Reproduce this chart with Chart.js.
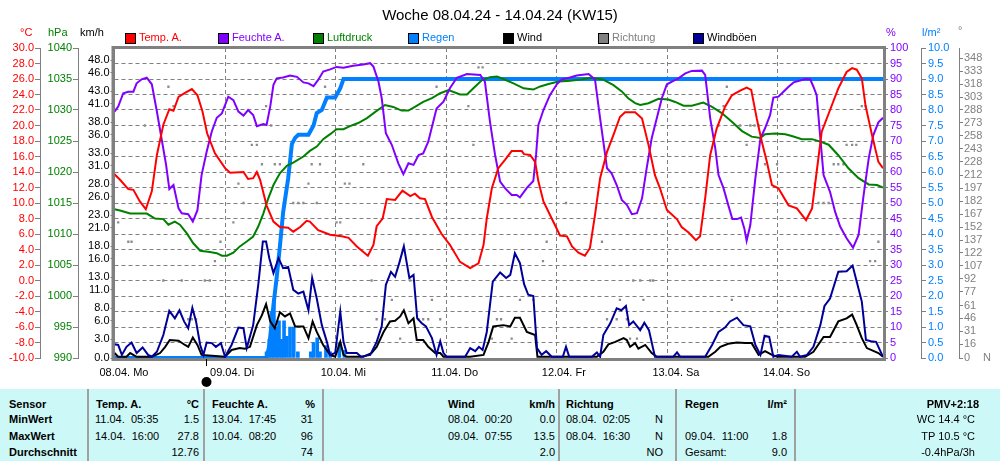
<!DOCTYPE html>
<html>
<head>
<meta charset="utf-8">
<script src="https://cdn.jsdelivr.net/npm/chart.js@4.4.1/dist/chart.umd.min.js"></script>
<style>
  body { margin: 0; width: 1000px; height: 461px; background: #fff; overflow: hidden; position: relative;
         font-family: "Liberation Sans", Arial, sans-serif; font-size: 11px; }
  #wrap { position: absolute; left: 0; top: 0; width: 1000px; height: 388px; }
  .t { position: absolute; white-space: pre; line-height: 13px; }
  .b { font-weight: bold; }
  #title { position: absolute; left: 0; top: 6px; width: 1000px; text-align: center; font-size: 15px; line-height: 18px; }
  .box { position: absolute; top: 33px; width: 9px; height: 9px; border: 1px solid #000; }
  #table { position: absolute; left: 0; top: 389px; width: 1000px; height: 72px; background: #cdf8f8; }
  .sep { position: absolute; top: 0; width: 2px; height: 72px; background: #a0a0a0; }
</style>
</head>
<body>
<div id="wrap"><canvas id="weekChart" width="1000" height="388"></canvas></div>

<div id="title">Woche 08.04.24 - 14.04.24 (KW15)</div>

<div class="box" style="left:125px;background:#ff0000"></div><span class="t" style="left:139px;top:31px;color:#ff0000">Temp. A.</span>
<div class="box" style="left:218px;background:#8000ff"></div><span class="t" style="left:232px;top:31px;color:#8000ff">Feuchte A.</span>
<div class="box" style="left:313px;background:#008000"></div><span class="t" style="left:327px;top:31px;color:#008000">Luftdruck</span>
<div class="box" style="left:408px;background:#0080ff"></div><span class="t" style="left:422px;top:31px;color:#0080ff">Regen</span>
<div class="box" style="left:503px;background:#000000"></div><span class="t" style="left:517px;top:31px;color:#000">Wind</span>
<div class="box" style="left:598px;background:#808080"></div><span class="t" style="left:612px;top:31px;color:#808080">Richtung</span>
<div class="box" style="left:693px;background:#000099"></div><span class="t" style="left:707px;top:31px;color:#000">Windböen</span>

<span class="t" style="left:20px;top:26px;color:#ff0000">°C</span>
<span class="t" style="left:48px;top:26px;color:#008000">hPa</span>
<span class="t" style="left:80px;top:26px;color:#000">km/h</span>
<span class="t" style="left:886px;top:26px;color:#8000ff">%</span>
<span class="t" style="left:922px;top:26px;color:#0080ff">l/m²</span>
<span class="t" style="left:958px;top:24px;color:#808080">°</span>
<span class="t" style="left:983px;top:351px;color:#808080">N</span>

<div id="table">
  <div class="sep" style="left:87px"></div>
  <div class="sep" style="left:203px"></div>
  <div class="sep" style="left:322px"></div>
  <div class="sep" style="left:558px"></div>
  <div class="sep" style="left:675px"></div>
  <div class="sep" style="left:794px"></div>

  <span class="t b" style="left:9px;top:8.5px">Sensor</span>
  <span class="t b" style="left:9px;top:24px">MinWert</span>
  <span class="t b" style="left:9px;top:40.5px">MaxWert</span>
  <span class="t b" style="left:9px;top:56.5px">Durchschnitt</span>

  <span class="t b" style="left:96px;top:8.5px">Temp. A.</span>
  <span class="t b" style="right:801px;top:8.5px">°C</span>
  <span class="t" style="left:95px;top:24px">11.04.  05:35</span>
  <span class="t" style="right:801px;top:24px">1.5</span>
  <span class="t" style="left:95px;top:40.5px">14.04.  16:00</span>
  <span class="t" style="right:801px;top:40.5px">27.8</span>
  <span class="t" style="right:801px;top:56.5px">12.76</span>

  <span class="t b" style="left:212px;top:8.5px">Feuchte A.</span>
  <span class="t b" style="right:685px;top:8.5px">%</span>
  <span class="t" style="left:212px;top:24px">13.04.  17:45</span>
  <span class="t" style="right:687px;top:24px">31</span>
  <span class="t" style="left:212px;top:40.5px">10.04.  08:20</span>
  <span class="t" style="right:687px;top:40.5px">96</span>
  <span class="t" style="right:687px;top:56.5px">74</span>

  <span class="t b" style="left:448px;top:8.5px">Wind</span>
  <span class="t b" style="right:445px;top:8.5px">km/h</span>
  <span class="t" style="left:448px;top:24px">08.04.  00:20</span>
  <span class="t" style="right:445px;top:24px">0.0</span>
  <span class="t" style="left:448px;top:40.5px">09.04.  07:55</span>
  <span class="t" style="right:445px;top:40.5px">13.5</span>
  <span class="t" style="right:445px;top:56.5px">2.0</span>

  <span class="t b" style="left:566px;top:8.5px">Richtung</span>
  <span class="t" style="left:566px;top:24px">08.04.  02:05</span>
  <span class="t" style="right:337px;top:24px">N</span>
  <span class="t" style="left:566px;top:40.5px">08.04.  16:30</span>
  <span class="t" style="right:337px;top:40.5px">N</span>
  <span class="t" style="right:337px;top:56.5px">NO</span>

  <span class="t b" style="left:685px;top:8.5px">Regen</span>
  <span class="t b" style="right:213px;top:8.5px">l/m²</span>
  <span class="t" style="left:685px;top:40.5px">09.04.  11:00</span>
  <span class="t" style="right:213px;top:40.5px">1.8</span>
  <span class="t" style="left:685px;top:56.5px">Gesamt:</span>
  <span class="t" style="right:213px;top:56.5px">9.0</span>

  <span class="t b" style="right:21px;top:8.5px">PMV+2:18</span>
  <span class="t" style="right:25px;top:24px">WC 14.4 °C</span>
  <span class="t" style="right:25px;top:40.5px">TP 10.5 °C</span>
  <span class="t" style="right:25px;top:56.5px">-0.4hPa/3h</span>
</div>

<script>
// hours since 08.04. 00:00
const xMax = 166.8;
const nowHour = 19.9;
const dayTicks = [0, 24, 48, 72, 96, 120, 144];
const dayLabels = ['08.04. Mo', '09.04. Di', '10.04. Mi', '11.04. Do', '12.04. Fr', '13.04. Sa', '14.04. So'];

const tempTicks = [-10, -8, -6, -4, -2, 0, 2, 4, 6, 8, 10, 12, 14, 16, 18, 20, 22, 24, 26, 28, 30];
const pressTicks = [990, 995, 1000, 1005, 1010, 1015, 1020, 1025, 1030, 1035, 1040];
const windTicks = [0, 3, 6, 8, 11, 13, 16, 18, 21, 23, 26, 28, 31, 33, 36, 38, 41, 43, 46, 48];
const humTicks = [0, 5, 10, 15, 20, 25, 30, 35, 40, 45, 50, 55, 60, 65, 70, 75, 80, 85, 90, 95, 100];
const rainTicks = [0, 0.5, 1, 1.5, 2, 2.5, 3, 3.5, 4, 4.5, 5, 5.5, 6, 6.5, 7, 7.5, 8, 8.5, 9, 9.5, 10];
const dirTicks = [0, 16, 31, 46, 61, 77, 92, 107, 122, 137, 152, 167, 182, 197, 212, 228, 243, 258, 273, 288, 303, 318, 333, 348];

const tempHours = [0, 1.2, 3.0, 4.1, 5.5, 6.8, 8.1, 9.2, 10.6, 11.9, 12.8, 13.9, 15.3, 16.8, 18.0, 19.1, 20.1, 21.8, 24.0, 25.1,
  28.0, 29.0, 30.1, 30.9, 31.6, 33.0, 34.5, 35.9, 37.7, 38.8, 40.3, 41.7, 42.4, 44.2, 46.8, 49.3, 50.8, 52.6, 55.0, 56.2,
  56.9, 58.2, 59.1, 60.9, 62.5, 64.2, 65.2, 66.3, 67.4, 68.9, 71.0, 72.8, 75.0, 77.2, 79.0, 80.1, 80.8, 81.9, 83.3, 84.8,
  86.2, 88.4, 88.9, 90.2, 91.3, 92.0, 93.1, 94.9, 96.7, 98.2, 99.3, 100.7, 102.1, 103.2, 104.3, 105.4, 106.9, 108.3, 109.7, 110.8,
  113.0, 114.5, 115.9, 117.3, 118.4, 119.9, 122.1, 123.1, 124.6, 126.2, 127.1, 128.2, 129.3, 130.7, 132.5, 134.0, 135.8, 137.2, 138.2, 139.4,
  140.5, 141.6, 142.7, 144.1, 146.3, 148.1, 150.1, 151.4, 152.4, 153.5, 155.3, 157.1, 158.9, 160.1, 161.1, 162.2, 163.0, 164.4, 165.8, 166.8];
const tempValues = [13.7, 13.0, 11.8, 11.7, 10.2, 9.2, 11.5, 16.2, 20.1, 22.1, 21.9, 23.7, 24.2, 24.7, 23.9, 21.8, 19.0, 16.4, 14.5, 13.9,
  14.0, 13.1, 13.2, 14.0, 13.0, 9.7, 7.6, 6.9, 6.8, 6.3, 6.9, 7.7, 7.6, 6.5, 5.9, 5.7, 5.5, 4.4, 3.2, 4.6,
  7.0, 8.0, 10.5, 10.4, 11.6, 10.9, 11.2, 10.6, 10.5, 8.2, 6.0, 4.6, 2.4, 1.6, 2.2, 4.6, 8.0, 11.9, 14.5, 15.6,
  16.7, 16.7, 16.3, 16.2, 15.3, 12.8, 10.2, 8.0, 5.8, 5.7, 4.4, 3.6, 3.2, 4.2, 8.5, 13.2, 16.6, 18.8, 21.1, 21.7,
  21.7, 20.9, 17.5, 13.6, 11.9, 9.1, 7.9, 6.9, 6.2, 5.2, 5.7, 10.6, 16.2, 19.6, 22.4, 23.9, 24.5, 24.9, 24.6, 20.9,
  17.9, 15.3, 12.3, 11.9, 9.7, 9.3, 7.8, 9.3, 14.0, 19.2, 22.0, 24.8, 26.9, 27.4, 27.2, 26.1, 22.6, 18.8, 15.3, 14.5];

const humHours = [0, 0.8, 1.9, 3.0, 4.1, 4.8, 5.9, 7.0, 8.1, 9.2, 10.2, 11.2, 11.9, 12.8, 13.9, 14.6, 16.0, 17.0, 18.0, 18.9,
  20.0, 21.1, 22.2, 23.3, 24.7, 25.8, 26.9, 28.0, 29.0, 30.1, 30.9, 32.3, 33.0, 33.8, 34.5, 35.2, 36.6, 38.1, 39.6, 41.0,
  42.1, 43.2, 44.2, 45.3, 46.8, 48.2, 49.7, 51.8, 54.0, 55.5, 56.2, 57.3, 58.0, 58.9, 60.2, 61.6, 62.7, 63.8, 64.9, 66.0,
  67.0, 68.1, 69.9, 71.4, 72.8, 74.3, 76.5, 79.4, 80.4, 81.5, 82.6, 83.7, 84.8, 86.2, 87.3, 88.0, 89.5, 90.9, 91.5, 92.0,
  93.1, 94.5, 96.0, 97.1, 98.9, 100.3, 102.9, 103.6, 104.3, 105.4, 106.1, 106.9, 107.9, 109.0, 110.1, 111.2, 112.3, 113.4, 114.5, 115.5,
  116.6, 117.7, 118.8, 119.9, 121.3, 122.4, 123.9, 125.3, 127.5, 128.2, 129.3, 130.4, 131.1, 132.2, 133.2, 134.1, 135.1, 136.0, 136.7, 137.2,
  138.0, 139.1, 140.2, 141.2, 142.3, 143.0, 144.1, 145.2, 146.3, 147.4, 148.8, 149.9, 151.0, 151.7, 152.4, 153.2, 153.9, 155.3, 156.4, 157.5,
  158.9, 160.3, 161.5, 162.6, 163.7, 164.7, 165.8, 166.8];
const humValues = [79.5, 81.1, 85.4, 85.9, 85.9, 88.6, 89.9, 90.4, 88.3, 79.5, 70.9, 62.3, 54.5, 55.8, 48.3, 46.7, 46.4, 44.0, 47.7, 59.0,
  66.5, 73.0, 77.5, 78.9, 84.3, 83.2, 79.5, 78.2, 80.0, 78.4, 74.8, 75.5, 75.2, 81.1, 88.1, 90.2, 90.5, 91.1, 90.7, 88.9,
  88.6, 87.7, 89.7, 92.4, 93.1, 93.9, 93.6, 94.3, 94.7, 95.1, 94.0, 89.1, 83.8, 72.5, 68.7, 62.8, 59.3, 62.8, 62.3, 65.5,
  66.0, 69.8, 80.5, 82.7, 87.0, 90.4, 91.6, 91.3, 89.1, 76.2, 65.5, 56.9, 54.7, 52.6, 52.6, 51.8, 54.9, 57.1, 65.5, 75.2,
  80.0, 84.8, 88.3, 89.9, 90.5, 91.1, 91.6, 90.7, 89.7, 77.3, 69.8, 61.2, 59.6, 55.8, 51.0, 49.4, 46.4, 46.7, 51.5, 61.2,
  70.9, 77.3, 83.8, 88.3, 89.4, 90.2, 91.8, 92.6, 92.7, 91.3, 77.3, 67.6, 59.0, 54.7, 49.4, 44.8, 44.8, 45.3, 41.8, 37.8,
  42.9, 58.0, 70.9, 74.1, 78.4, 84.0, 84.3, 85.9, 87.5, 88.9, 89.5, 90.0, 89.9, 87.5, 84.8, 70.9, 59.0, 53.6, 47.2, 42.4,
  38.6, 35.6, 39.7, 52.6, 64.4, 71.9, 76.0, 77.5];

const pressHours = [0, 1.2, 3.4, 7.0, 8.8, 10.6, 11.7, 13.1, 14.2, 15.7, 17.1, 18.6, 20.7, 22.2, 23.3, 24.4, 25.8, 27.2, 28.7, 30.1,
  31.2, 32.3, 33.4, 34.5, 35.9, 37.4, 38.8, 41.0, 42.4, 43.9, 45.3, 46.8, 48.2, 49.7, 51.1, 52.9, 54.8, 56.6, 58.7, 60.5,
  62.3, 63.8, 65.2, 67.0, 68.9, 70.7, 72.5, 75.0, 76.5, 77.9, 79.7, 81.5, 83.0, 84.4, 86.6, 88.8, 90.9, 92.4, 94.2, 96.4,
  98.9, 101.1, 103.6, 106.1, 108.3, 110.1, 111.5, 113.0, 114.1, 115.9, 118.1, 120.2, 121.7, 123.5, 125.3, 127.8, 129.7, 131.8, 134.0, 136.2,
  138.3, 140.2, 141.2, 143.4, 145.6, 147.0, 149.2, 151.4, 153.2, 155.0, 157.1, 159.3, 161.5, 163.7, 165.5, 166.8];
const pressValues = [1014.0, 1013.8, 1013.3, 1013.3, 1012.5, 1012.4, 1011.5, 1012.0, 1011.5, 1010.1, 1008.5, 1007.3, 1007.1, 1006.9, 1006.5, 1006.5, 1007.0, 1008.0, 1008.8, 1009.6,
  1011.2, 1013.3, 1015.8, 1017.9, 1019.8, 1021.0, 1021.5, 1022.5, 1023.4, 1024.1, 1025.3, 1026.1, 1026.9, 1026.9, 1027.4, 1027.9, 1028.7, 1029.7, 1030.8, 1030.5,
  1029.9, 1029.9, 1030.5, 1031.3, 1031.9, 1032.7, 1033.2, 1032.5, 1032.5, 1033.5, 1034.8, 1035.3, 1035.4, 1035.0, 1034.3, 1033.5, 1033.3, 1033.8, 1034.2, 1034.6,
  1034.7, 1034.9, 1035.2, 1034.9, 1034.0, 1033.0, 1031.9, 1031.1, 1030.8, 1031.1, 1031.8, 1031.7, 1031.3, 1030.7, 1030.7, 1031.2, 1030.5, 1029.5, 1028.1, 1026.6,
  1025.7, 1025.5, 1026.1, 1026.2, 1026.1, 1025.8, 1025.3, 1025.3, 1024.9, 1024.4, 1022.7, 1020.6, 1019.0, 1018.0, 1017.9, 1017.5];

const rainSumHours = [0, 33.0, 33.6, 34.5, 35.2, 35.9, 36.6, 37.7, 38.5, 39.2, 39.9, 42.1, 43.2, 43.9, 45.0, 46.1, 47.9, 49.0, 49.7, 166.8];
const rainSumValues = [0, 0, 0.4, 1.7, 2.6, 3.6, 4.7, 5.8, 6.9, 7.1, 7.2, 7.2, 7.5, 7.9, 8.0, 8.4, 8.4, 8.7, 9.0, 9.0];
const rainBarHours = [33.0, 33.6, 34.1, 34.6, 35.2, 35.7, 36.3, 36.8, 37.4, 38.1, 38.9, 39.8, 42.6, 43.2, 44.0, 44.6, 45.9, 46.8, 48.8, 49.9];
const rainBarValues = [0.2, 0.6, 1.5, 1.9, 1.0, 1.2, 0.6, 1.2, 0.7, 1.0, 1.0, 0.2, 0.2, 0.5, 0.65, 0.2, 0.4, 0.2, 0.5, 0.25];

const windHours = [0, 0.8, 2.6, 3.4, 4.8, 8.1, 9.9, 11.0, 12.0, 13.9, 15.3, 16.0, 17.0, 18.0, 18.9, 20.4, 24.0, 25.4, 27.2, 28.3,
  29.4, 30.9, 32.0, 32.9, 33.8, 34.8, 35.9, 37.0, 38.1, 39.2, 41.0, 42.1, 43.0, 43.9, 45.3, 46.8, 47.9, 49.0, 49.7, 50.4,
  54.0, 55.8, 56.9, 58.4, 59.8, 60.9, 62.0, 62.8, 63.8, 64.9, 65.6, 67.0, 68.1, 69.6, 70.7, 71.4, 77.2, 80.1, 81.2, 82.2,
  84.4, 85.9, 86.9, 88.0, 89.5, 91.3, 91.8, 104.7, 106.1, 107.2, 108.7, 110.5, 111.2, 111.9, 113.0, 113.7, 115.2, 116.6, 117.7, 128.9,
  130.4, 131.5, 133.2, 135.1, 136.9, 138.3, 139.8, 141.2, 142.7, 143.8, 149.9, 151.7, 153.9, 155.3, 157.1, 158.9, 160.1, 161.1, 162.2, 163.3,
  165.8, 166.8];
const windValues = [0.8, 0.2, 0.2, 0.8, 0.2, 0.2, 0.8, 1.8, 2.9, 2.8, 2.1, 1.8, 3.3, 2.1, 0.5, 0.4, 0.2, 1.3, 1.6, 1.5,
  1.8, 5.3, 6.9, 8.7, 5.9, 4.8, 7.4, 6.7, 7.2, 5.1, 5.1, 3.2, 5.9, 4.2, 2.1, 0.5, 0.2, 2.6, 0.5, 0.2,
  0.2, 0.8, 1.8, 4.2, 5.9, 6.0, 6.7, 7.7, 5.6, 6.4, 2.9, 2.9, 1.8, 0.8, 0.8, 0.2, 0.2, 0.5, 2.6, 5.1,
  5.3, 5.1, 6.5, 6.5, 4.2, 3.7, 0.2, 0.2, 1.0, 2.2, 2.6, 3.2, 2.9, 1.8, 2.4, 1.5, 2.1, 0.8, 0.2, 0.2,
  1.0, 1.8, 2.3, 2.5, 2.4, 2.4, 0.5, 1.1, 0.5, 0.2, 0.2, 1.0, 3.4, 3.4, 5.9, 6.4, 7.0, 5.3, 3.2, 1.6,
  0.8, 0.2];

const gustHours = [0, 0.8, 1.6, 2.6, 3.7, 4.8, 6.1, 7.3, 8.1, 9.2, 10.6, 11.9, 13.1, 14.1, 15.1, 16.0, 16.9, 17.7, 18.6, 19.3,
  20.0, 21.1, 22.0, 23.1, 24.0, 25.4, 26.9, 28.0, 28.7, 30.1, 31.2, 32.2, 32.9, 33.6, 34.5, 35.6, 36.6, 37.7, 38.8, 39.9,
  41.0, 42.1, 42.9, 43.9, 45.0, 46.1, 46.8, 47.9, 49.0, 49.7, 50.4, 52.6, 53.5, 55.5, 56.9, 58.0, 58.9, 60.0, 60.9, 61.8,
  62.8, 64.0, 64.9, 65.7, 66.7, 67.6, 68.9, 69.9, 70.7, 71.4, 72.1, 76.1, 77.2, 78.3, 79.1, 79.9, 80.8, 82.1, 83.7, 85.0,
  85.9, 86.9, 88.0, 88.9, 89.8, 90.9, 91.7, 92.7, 93.7, 94.9, 97.3, 98.0, 98.7, 103.6, 104.7, 105.4, 106.1, 107.6, 109.0, 110.0,
  111.0, 111.7, 112.6, 114.1, 115.0, 116.0, 117.3, 121.3, 122.1, 122.8, 128.2, 129.7, 131.1, 132.5, 133.6, 135.1, 136.5, 138.0, 139.1, 140.2,
  141.1, 142.1, 143.0, 144.1, 147.0, 148.1, 148.8, 150.3, 151.7, 153.2, 154.1, 155.3, 157.1, 158.9, 160.2, 161.1, 162.2, 163.1, 164.2, 165.3,
  166.8];
const gustValues = [2.2, 2.1, 0.5, 1.8, 2.5, 0.8, 1.7, 0.5, 0.2, 1.0, 3.7, 7.6, 6.4, 7.7, 5.9, 4.8, 8.1, 5.9, 2.1, 0.5,
  2.5, 2.4, 1.8, 2.4, 0.2, 2.1, 4.9, 4.8, 1.6, 5.3, 11.8, 18.8, 18.8, 16.1, 13.7, 16.1, 14.5, 14.7, 11.0, 10.4,
  10.7, 7.7, 12.9, 9.6, 5.3, 2.6, 0.5, 0.8, 7.5, 2.6, 0.8, 0.8, 0.2, 0.5, 2.6, 5.1, 11.8, 13.9, 13.1, 15.3,
  18.0, 12.9, 13.4, 6.4, 5.6, 5.1, 3.2, 0.5, 2.7, 0.8, 0.2, 0.2, 1.6, 1.1, 1.8, 1.3, 4.2, 12.3, 13.8, 12.9,
  13.4, 16.9, 15.3, 11.9, 10.2, 10.0, 1.6, 0.5, 1.1, 0.2, 0.2, 1.8, 0.2, 0.2, 0.9, 0.2, 3.7, 5.6, 8.0, 7.7,
  8.4, 5.3, 5.9, 4.5, 5.7, 4.5, 0.2, 0.2, 0.9, 0.2, 0.2, 2.1, 4.2, 4.9, 5.9, 6.5, 5.3, 5.1, 2.1, 0.5,
  3.6, 3.4, 0.2, 0.5, 0.2, 1.0, 0.2, 0.5, 1.8, 5.3, 8.4, 9.6, 13.9, 14.0, 14.9, 12.3, 9.1, 2.9, 2.7, 2.6,
  0.2];

const dirHours = [0.8, 3.0, 3.7, 6.6, 10.6, 11.7, 12.8, 14.6, 16.0, 16.8, 17.7, 19.6, 20.7, 21.8, 23.0, 25.8, 26.9, 28.0, 29.8, 30.9,
  32.0, 32.9, 34.0, 34.8, 35.9, 38.8, 39.9, 41.0, 42.1, 42.8, 43.9, 44.6, 45.7, 48.2, 49.0, 50.0, 51.0, 54.0, 55.8, 56.9,
  58.7, 60.2, 62.0, 64.2, 66.0, 67.0, 68.1, 68.9, 69.9, 70.7, 76.8, 77.9, 79.0, 79.9, 81.9, 83.0, 83.9, 86.2, 88.0, 90.9,
  93.0, 93.8, 98.0, 105.8, 106.9, 109.0, 109.7, 111.2, 111.9, 112.6, 113.4, 114.1, 114.8, 116.3, 116.9, 131.1, 132.2, 132.9, 134.0, 135.8,
  137.2, 138.0, 138.9, 139.8, 141.2, 143.8, 152.0, 152.8, 153.9, 155.0, 156.1, 157.1, 158.2, 158.9, 160.1, 161.0, 162.2, 163.0, 164.0, 165.1,
  165.8];
const dirValues = [157.5, 135, 135, 270, 90, 315, 292.5, 90, 45, 45, 45, 90, 90, 112.5, 135, 157.5, 202.5, 180, 247.5, 247.5,
  225, 292.5, 270, 225, 225, 180, 180, 180, 202.5, 225, 180, 225, 315, 157.5, 157.5, 202.5, 202.5, 225, 90, 45,
  45, 67.5, 22.5, 90, 45, 45, 45, 67.5, 315, 45, 292.5, 247.5, 337.5, 337.5, 22.5, 45, 45, 22.5, 67.5, 67.5,
  112.5, 135, 180, 135, 45, 45, 67.5, 45, 22.5, 90, 22.5, 90, 67.5, 90, 90, 270, 292.5, 315, 67.5, 270,
  247.5, 270, 270, 270, 225, 225, 202.5, 180, 180, 180, 225, 225, 225, 247.5, 247.5, 247.5, 292.5, 292.5, 112.5, 112.5,
  135];

const pairs = (xs, ys) => xs.map((x, i) => ({ x: x, y: ys[i] }));
const tickFont = { family: 'Liberation Sans', size: 11 };
const gray = '#808080';

function noPad(s) {
  s.paddingTop = 0; s.paddingBottom = 0; s.paddingLeft = 0; s.paddingRight = 0;
}

function sideAxis(position, weight, width, min, max, color, digits, values, tickLen, pad, onChart) {
  return {
    type: 'linear', position: position, weight: weight, min: min, max: max,
    afterBuildTicks: s => { s.ticks = values.map(v => ({ value: v })); },
    afterFit: s => { s.width = width; noPad(s); },
    ticks: { color: color, font: tickFont, padding: pad, autoSkip: false, callback: v => v.toFixed(digits) },
    grid: { drawOnChartArea: !!onChart, tickLength: tickLen, color: gray },
    border: { color: gray, width: 1, dash: onChart ? [4, 3] : [] }
  };
}

function lineSet(label, xs, ys, color, axis, width) {
  return {
    type: 'line', label: label, data: pairs(xs, ys), yAxisID: axis,
    borderColor: color, backgroundColor: color, borderWidth: width || 2,
    pointRadius: 0, tension: 0, fill: false
  };
}

const framePlugin = {
  id: 'frame',
  afterDatasetsDraw(chart) {
    const { ctx, chartArea: a, scales } = chart;
    ctx.save();
    ctx.strokeStyle = gray;
    ctx.lineWidth = 3;
    ctx.strokeRect(a.left - 1.5, a.top - 0.5, a.right - a.left + 3, a.bottom - a.top + 2);
    // current time marker
    const nx = Math.round(scales.x.getPixelForValue(nowHour)) + 0.5;
    ctx.strokeStyle = '#000';
    ctx.lineWidth = 1;
    ctx.beginPath();
    ctx.moveTo(nx, a.bottom + 1);
    ctx.lineTo(nx, a.bottom + 8);
    ctx.stroke();
    ctx.fillStyle = '#000';
    ctx.beginPath();
    ctx.arc(nx, a.bottom + 24, 5, 0, Math.PI * 2);
    ctx.fill();
    ctx.restore();
  }
};

new Chart(document.getElementById('weekChart'), {
  type: 'line',
  data: {
    datasets: [
      lineSet('Temp. A.', tempHours, tempValues, '#ff0000', 'yT'),
      lineSet('Feuchte A.', humHours, humValues, '#8000ff', 'yH'),
      lineSet('Windböen', gustHours, gustValues, '#000099', 'yW'),
      lineSet('Wind', windHours, windValues, '#000000', 'yW'),
      lineSet('Luftdruck', pressHours, pressValues, '#008000', 'yP'),
      {
        type: 'scatter', label: 'Richtung', data: pairs(dirHours, dirValues), yAxisID: 'yD',
        showLine: false, pointStyle: 'rect', pointRadius: 1.6,
        pointBackgroundColor: '#8c8c8c', pointBorderWidth: 0
      },
      lineSet('Regen', rainSumHours, rainSumValues, '#0080ff', 'yR', 4),
      {
        type: 'bar', label: 'Regen/h', data: pairs(rainBarHours, rainBarValues), yAxisID: 'yR',
        backgroundColor: '#0080ff', barThickness: 3, borderWidth: 0
      }
    ]
  },
  options: {
    responsive: false,
    animation: false,
    events: [],
    layout: { padding: { top: 48, left: 0, right: 0, bottom: 0 } },
    plugins: { legend: { display: false }, tooltip: { enabled: false } },
    scales: {
      x: {
        type: 'linear', min: 0, max: xMax, offset: false,
        afterBuildTicks: s => { s.ticks = dayTicks.map(v => ({ value: v })); },
        afterFit: s => { s.height = 30; noPad(s); },
        ticks: {
          align: 'start', labelOffset: -15, padding: 8, color: '#000', font: tickFont,
          maxRotation: 0, autoSkip: false, callback: (v, i) => dayLabels[i]
        },
        grid: { drawTicks: false, color: gray, offset: false },
        border: { color: gray, dash: [4, 3] }
      },
      yW: sideAxis('left', 0, 36.5, 0, 50, '#000000', 1, windTicks, 4, 1),
      yP: sideAxis('left', 1, 38, 990, 1040, '#008000', 0, pressTicks, 5, 1),
      yT: sideAxis('left', 2, 40, -10, 30, '#ff0000', 1, tempTicks, 5, 1),
      yH: sideAxis('right', 0, 38, 0, 100, '#8000ff', 0, humTicks, 5, 2, true),
      yR: sideAxis('right', 1, 38, 0, 10, '#0080ff', 1, rainTicks, 5, 2),
      yD: sideAxis('right', 2, 41, 0, 360, gray, 0, dirTicks, 4, 1)
    }
  },
  plugins: [framePlugin]
});
</script>
</body>
</html>
